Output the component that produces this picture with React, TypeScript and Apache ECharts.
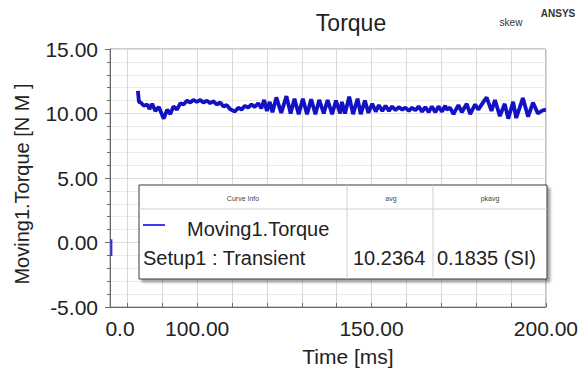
import React, { useEffect, useRef } from "react";
import * as echarts from "echarts";

const FONT = "'Liberation Sans', Arial, Helvetica, sans-serif";

const titleText = "Torque";
const cornerTexts = ["skew", "ANSYS"];
const xAxisName = "Time [ms]";
const yAxisName = "Moving1.Torque [N M ]";

const xMin = 75;
const xMax = 200;
const xLabelValues = [75, 100, 150, 200];
const xTickValues = [80, 90, 100, 110, 120, 130, 140, 150, 160, 170, 180, 190, 200];
const xMajorTickValues = [100, 150, 200];
const yMin = -5;
const yMax = 15;
const yInterval = 5;

const timeMs = [
  83.0, 83.3, 83.8, 84.7, 85.7, 86.3, 87.1, 88.0, 89.0, 90.4, 91.4, 92.3, 93.2, 94.2, 95.2, 96.1,
  97.1, 98.0, 98.9, 99.9, 100.9, 101.8, 102.8, 103.7, 104.6, 105.6, 106.6, 107.5, 108.5, 109.4, 110.8,
  111.8, 112.7, 113.7, 114.6, 115.6, 116.5, 117.5, 118.4, 119.2, 120.0, 120.8, 121.6, 122.7, 124.1,
  125.6, 126.8, 127.9, 129.1, 130.3, 131.5, 132.7, 133.9, 135.0, 136.3, 137.4, 138.7, 139.8, 141.0,
  141.5, 142.4, 143.6, 144.7, 146.0, 146.9, 148.1, 149.1, 150.2, 151.2, 152.1, 153.1, 154.0, 155.0,
  155.9, 156.9, 157.8, 158.8, 159.7, 160.7, 161.6, 162.6, 163.5, 164.5, 165.4, 166.4, 167.3, 168.3,
  169.2, 170.2, 171.1, 171.6, 172.5, 173.5, 174.9, 175.9, 177.3, 178.3, 179.7, 180.6, 182.1, 183.0,
  184.4, 185.4, 186.8, 188.2, 189.2, 190.6, 191.5, 193.4, 194.9, 196.3, 197.7, 199.1, 200.0,
];
const torqueNm = [
  11.75, 10.9, 10.85, 10.6, 10.7, 10.35, 10.75, 10.2, 10.5, 9.6, 10.3, 9.95, 10.55, 10.3, 10.8, 10.7,
  11.0, 10.85, 11.05, 10.9, 11.05, 10.85, 11.0, 10.8, 10.95, 10.7, 10.85, 10.55, 10.65, 10.35, 10.15,
  10.45, 10.3, 10.6, 10.45, 10.7, 10.5, 10.8, 10.4, 11.05, 10.2, 10.9, 10.1, 11.25, 10.05,
  11.35, 10.0, 11.15, 9.95, 11.15, 9.95, 11.1, 9.95, 11.05, 10.0, 11.05, 9.95, 11.0, 10.0,
  10.9, 10.0, 11.3, 9.95, 11.15, 9.95, 11.0, 10.05, 10.75, 10.15, 10.65, 10.2, 10.6, 10.2,
  10.55, 10.25, 10.5, 10.3, 10.45, 10.2, 10.45, 10.25, 10.55, 10.15, 10.5, 10.1, 10.55, 10.1,
  10.55, 10.15, 10.6, 10.3, 10.45, 9.95, 10.65, 10.1, 10.75, 9.95, 10.7, 10.3, 10.9, 11.25,
  10.2, 11.05, 9.8, 10.75, 9.6, 10.9, 9.65, 11.2, 9.75, 10.85, 10.0, 10.25, 10.3,
];
const startMarkTime = [75.4, 75.4];
const startMarkTorque = [0.25, -1.05];

const legendHeaders = ["Curve Info", "avg", "pkavg"];
const legendCurveName = "Moving1.Torque";
const legendSetup = "Setup1 : Transient";
const legendStats = ["10.2364", "0.1835 (SI)"];

const AXIS_COLOR = "#6a6a6a";
const TEXT_COLOR = "#222";
const CURVE_COLOR = "#1212c4";
const LZ = 100;

export default function App() {
  const ref = useRef<HTMLDivElement>(null);
  useEffect(() => {
    const chart = echarts.init(ref.current!, null, { renderer: "svg" });
    const curve = timeMs.map((t, i) => [t, torqueNm[i]]);
    const startMark = startMarkTime.map((t, i) => [t, startMarkTorque[i]]);
    const textStyle = { fontFamily: FONT, color: TEXT_COLOR };
    const legendText = (text: string, x: number, y: number, font: string, fill: string, align: string, z: number) => ({
      type: "text",
      x,
      y,
      z,
      style: { text, font, fill, textAlign: align, textVerticalAlign: "middle" },
    });
    chart.setOption({
      animation: false,
      backgroundColor: "#fff",
      textStyle: { fontFamily: FONT },
      grid: {
        left: 110,
        right: 33,
        top: 49,
        bottom: 73,
        show: true,
        borderColor: "#9a9a9a",
        borderWidth: 1,
        backgroundColor: "#fff",
      },
      xAxis: [
        {
          type: "value",
          min: xMin,
          max: xMax,
          name: xAxisName,
          nameLocation: "middle",
          nameGap: 39,
          nameTextStyle: { ...textStyle, fontSize: 21, padding: [0, 0, 0, 40] },
          axisLine: { show: true, onZero: false, lineStyle: { color: AXIS_COLOR } },
          axisTick: { show: true, inside: true, length: 4, customValues: xTickValues, lineStyle: { color: AXIS_COLOR } },
          axisLabel: {
            customValues: xLabelValues,
            margin: 11,
            fontSize: 21,
            ...textStyle,
            formatter: (v: number) => (v === xMin ? "{z|0.0}" : v.toFixed(2)),
            rich: { z: { ...textStyle, fontSize: 21, padding: [0, 0, 0, 20] } },
          },
          splitLine: { show: true, lineStyle: { color: "#d9d9d9" } },
        },
        {
          type: "value",
          min: xMin,
          max: xMax,
          position: "bottom",
          axisLine: { show: false },
          axisTick: { show: true, inside: true, length: 8, customValues: xMajorTickValues, lineStyle: { color: AXIS_COLOR } },
          axisLabel: { show: false },
          splitLine: { show: false },
        },
      ],
      yAxis: {
        type: "value",
        min: yMin,
        max: yMax,
        interval: yInterval,
        name: yAxisName,
        nameLocation: "middle",
        nameGap: 78,
        nameTextStyle: { ...textStyle, fontSize: 20, padding: [0, 12, 0, 0] },
        axisLine: { show: true, lineStyle: { color: AXIS_COLOR } },
        axisTick: { show: true, length: 5, lineStyle: { color: AXIS_COLOR } },
        minorTick: { show: true, splitNumber: 5, length: 3, lineStyle: { color: AXIS_COLOR } },
        splitLine: { show: true, lineStyle: { color: "#e0e0e0" } },
        minorSplitLine: { show: true, lineStyle: { color: "#ececec" } },
        axisLabel: { ...textStyle, fontSize: 21, margin: 12, formatter: (v: number) => v.toFixed(2) },
      },
      series: [
        {
          name: legendCurveName,
          type: "line",
          data: curve,
          showSymbol: false,
          symbol: "none",
          lineStyle: { color: CURVE_COLOR, width: 3.8 },
          itemStyle: { color: CURVE_COLOR },
          z: 3,
        },
        {
          name: legendCurveName + " start",
          type: "line",
          data: startMark,
          showSymbol: false,
          symbol: "none",
          lineStyle: { color: "#3030e0", width: 2 },
          z: 3,
        },
      ],
      graphic: [
        legendText(titleText, 351, 23, `23px ${FONT}`, TEXT_COLOR, "center", 10),
        legendText(cornerTexts[0], 511, 22, `10px ${FONT}`, "#333", "center", 10),
        legendText(cornerTexts[1], 558, 13, `bold 10px ${FONT}`, "#333", "center", 10),
        {
          type: "rect",
          z: LZ,
          shape: { x: 139, y: 185, width: 408, height: 94 },
          style: { fill: "#fff", stroke: "#3a3a3a", lineWidth: 1, shadowBlur: 2, shadowOffsetX: 3, shadowOffsetY: 3, shadowColor: "rgba(0,0,0,0.35)" },
        },
        { type: "line", z: LZ + 1, shape: { x1: 139, y1: 209, x2: 547, y2: 209 }, style: { stroke: "#cfcfcf", lineWidth: 1 } },
        { type: "line", z: LZ + 1, shape: { x1: 347, y1: 185, x2: 347, y2: 279 }, style: { stroke: "#cfcfcf", lineWidth: 1 } },
        { type: "line", z: LZ + 1, shape: { x1: 433, y1: 185, x2: 433, y2: 279 }, style: { stroke: "#cfcfcf", lineWidth: 1 } },
        legendText(legendHeaders[0], 243, 198, `7px ${FONT}`, "#444", "center", LZ + 2),
        legendText(legendHeaders[1], 391, 198, `7px ${FONT}`, "#444", "center", LZ + 2),
        legendText(legendHeaders[2], 490, 198, `7px ${FONT}`, "#444", "center", LZ + 2),
        { type: "line", z: LZ + 2, shape: { x1: 143, y1: 225, x2: 165, y2: 225 }, style: { stroke: "#3a3aee", lineWidth: 2 } },
        legendText(legendCurveName, 187, 229, `20px ${FONT}`, TEXT_COLOR, "left", LZ + 2),
        legendText(legendSetup, 143, 258, `20px ${FONT}`, TEXT_COLOR, "left", LZ + 2),
        legendText(legendStats[0], 353, 258, `20px ${FONT}`, TEXT_COLOR, "left", LZ + 2),
        legendText(legendStats[1], 437, 258, `20px ${FONT}`, TEXT_COLOR, "left", LZ + 2),
      ],
    });
    return () => chart.dispose();
  }, []);
  return <div ref={ref} style={{ position: "fixed", left: 0, top: 0, width: 581, height: 380 }} />;
}
